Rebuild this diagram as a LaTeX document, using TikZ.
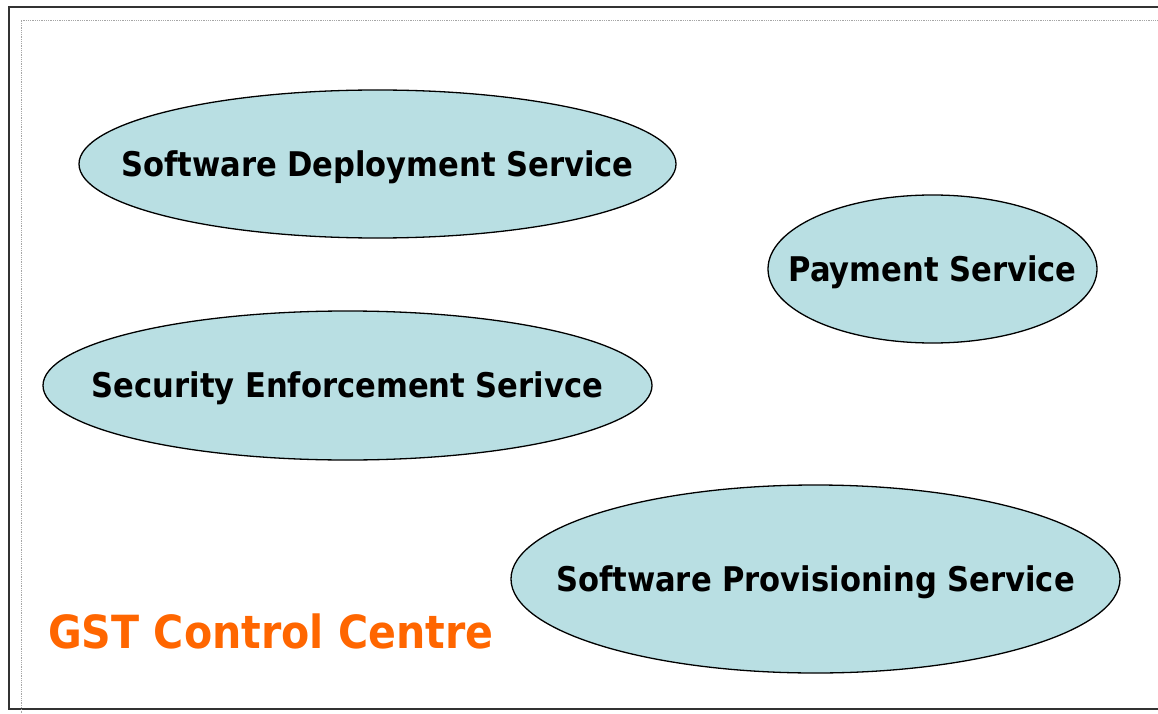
\documentclass[tikz,border=0pt]{standalone}
\usepackage{fontspec}
\setmainfont{DejaVu Sans Condensed}
\usetikzlibrary{shapes.geometric}
\definecolor{svcfill}{HTML}{B9DFE3}
\definecolor{gstorange}{HTML}{FF6600}
\definecolor{frame}{HTML}{333333}
\begin{document}
\begin{tikzpicture}[x=1pt,y=-1pt,
  svc/.style={ellipse,draw=black,line width=1.3pt,fill=svcfill,inner sep=0pt,outer sep=0pt},
  svctext/.style={inner sep=0pt,yshift=-3pt,font=\bfseries\fontsize{34}{38}\selectfont,text=black}]
\useasboundingbox (0,0) rectangle (1158,714);
\fill[white] (0,0) rectangle (1158,714);
\draw[frame,line width=2pt] (1170,7) -- (9,7) -- (9,709) -- (1170,709);
\draw[gray!70,line width=0.8pt,densely dotted] (1170,20) -- (21,20) -- (21,720);
\node[svc,minimum width=597,minimum height=148] (sds) at (377.5,164) {};
\node[svctext] (sdst) at (sds.center) {Software Deployment Service};
\node[svc,minimum width=329,minimum height=148] (pay) at (932.5,269) {};
\node[svctext] (payt) at (pay.center) {Payment Service};
\node[svc,minimum width=609,minimum height=149] (ses) at (347.5,385.5) {};
\node[svctext] (sest) at (ses.center) {Security Enforcement Serivce};
\node[svc,minimum width=609,minimum height=188] (sps) at (815.5,579) {};
\node[svctext] (spst) at (sps.center) {Software Provisioning Service};
\node[anchor=base west,inner sep=0pt,text=gstorange,font=\bfseries\fontsize{45.7}{52}\selectfont] (gst) at (48,648) {GST Control Centre};
\end{tikzpicture}
\end{document}
